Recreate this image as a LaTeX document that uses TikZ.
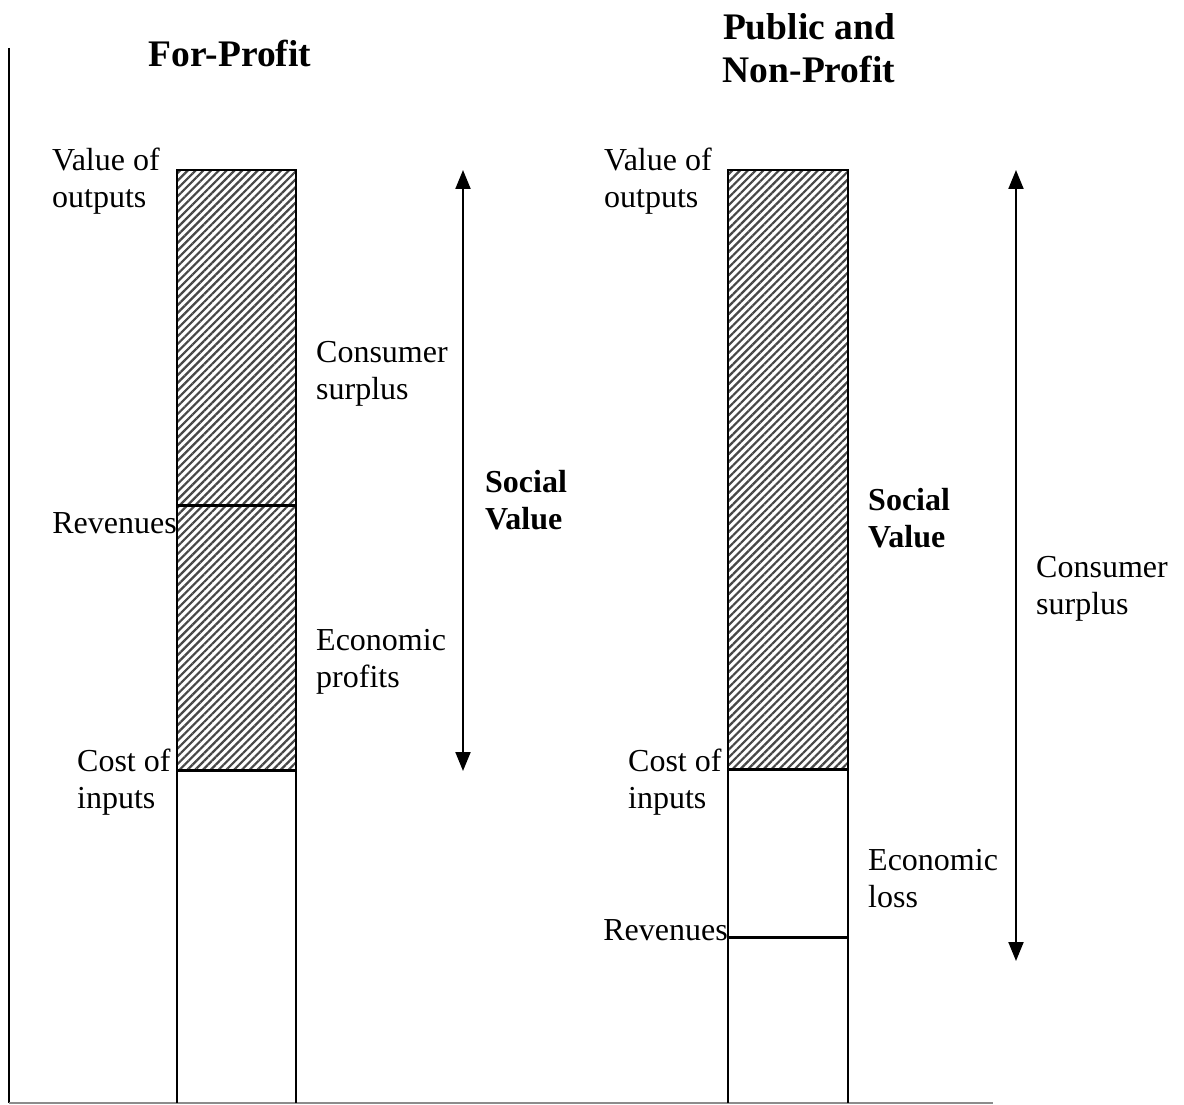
\documentclass[tikz,border=0pt]{standalone}
\usepackage{fontspec}
\setmainfont{Liberation Serif}
\usetikzlibrary{patterns.meta,arrows.meta}
\begin{document}
\begin{tikzpicture}[x=1pt,y=-1pt,
  lbl/.style={inner sep=0pt,anchor=west,align=left,font=\fontsize{32}{37}\selectfont},
  ttl/.style={inner sep=0pt,align=center,font=\bfseries\fontsize{37.5}{43}\selectfont},
  hatch/.style={pattern={Lines[angle=45,distance=5.5pt,line width=2.2pt]},pattern color=black!72},
  barline/.style={line width=2.4pt},
  divline/.style={line width=3pt},
  sv/.style={line width=2pt,{Triangle[length=19pt,width=15pt]}-{Triangle[length=19pt,width=15pt]}}]
\useasboundingbox (0,0) rectangle (1184,1105);
% axes
\draw[line width=2.4pt] (9,48) -- (9,1103);
\draw[line width=2pt,black!45] (9,1103) -- (993,1103);
% left bar
\fill[hatch] (177,170) rectangle (296,770);
\draw[barline] (177,1103) -- (177,170) -- (296,170) -- (296,1103);
\draw[divline] (177,505) -- (296,505);
\draw[divline] (177,770) -- (296,770);
% right bar
\fill[hatch] (728,170) rectangle (848,769);
\draw[barline] (728,1103) -- (728,170) -- (848,170) -- (848,1103);
\draw[divline] (728,769) -- (848,769);
\draw[divline] (728,937) -- (848,937);
% arrows
\coordinate (la1) at (463,170);
\coordinate (la2) at (463,771);
\coordinate (ra1) at (1016,170);
\coordinate (ra2) at (1016,961);
\draw[sv] (la1) -- (la2);
\draw[sv] (ra1) -- (ra2);
% titles
\node[ttl] (t1) at (230,53) {For-Profit};
\node[ttl] (t2) at (809,48) {Public and\\Non-Profit};
% left labels
\node[lbl] (l1) at (52,181) {Value of\\outputs};
\node[lbl] (l2) at (316,373.5) {Consumer\\surplus};
\node[lbl,anchor=east] (l3) at (177,523) {Revenues};
\node[lbl] (l4) at (316,661.5) {Economic\\profits};
\node[lbl] (l5) at (77,782) {Cost of\\inputs};
\node[lbl,font=\bfseries\fontsize{32}{37}\selectfont] (l6) at (485,500) {Social\\Value};
% right labels
\node[lbl] (r1) at (604,181) {Value of\\outputs};
\node[lbl,font=\bfseries\fontsize{32}{37}\selectfont] (r2) at (868,518) {Social\\Value};
\node[lbl] (r3) at (1036,589) {Consumer\\surplus};
\node[lbl] (r4) at (628,782) {Cost of\\inputs};
\node[lbl] (r5) at (868,878.5) {Economic\\loss};
\node[lbl,anchor=east] (r6) at (728,930) {Revenues};
\end{tikzpicture}
\end{document}
